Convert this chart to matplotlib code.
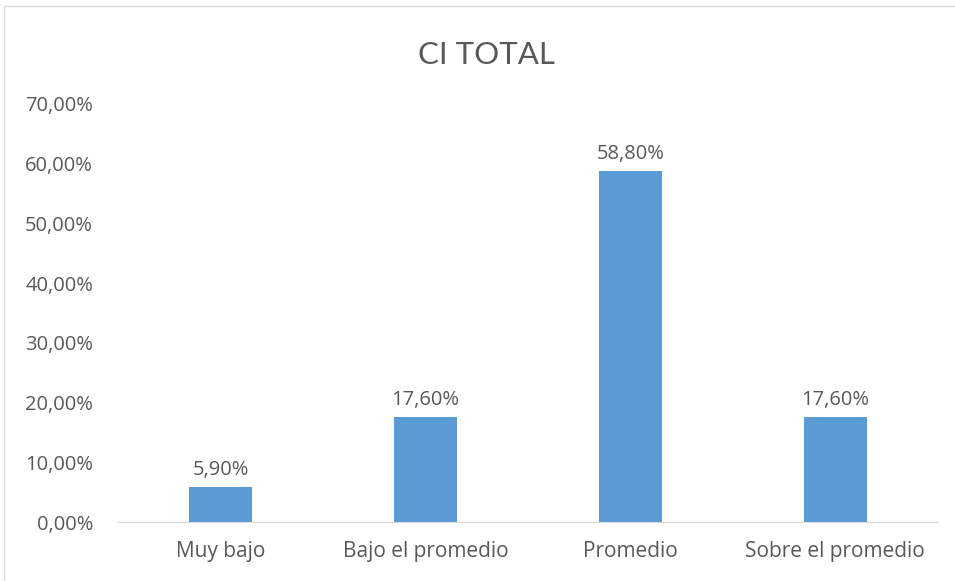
import matplotlib.pyplot as plt
from matplotlib.patches import Rectangle
from matplotlib.ticker import FuncFormatter

categories = ['Muy bajo', 'Bajo el promedio', 'Promedio', 'Sobre el promedio']
values = [5.9, 17.6, 58.8, 17.6]
yticks = [0, 10, 20, 30, 40, 50, 60, 70]

text_color = '#595959'
bar_color = '#5B9BD5'

plt.rcParams['font.family'] = ['Open Sans', 'DejaVu Sans']

fig = plt.figure(figsize=(9.55, 5.81), dpi=100)
ax = fig.add_axes([0.1236, 0.1015, 0.8584, 0.7195])

x = range(len(categories))
bars = ax.bar(x, values, width=0.31, color=bar_color)

# data labels in Spanish format
for b, v in zip(bars, values):
    ax.annotate(f'{v:.2f}%'.replace('.', ','), (b.get_x() + b.get_width() / 2, v),
                xytext=(0, 8.5), textcoords='offset points',
                ha='center', va='baseline', fontsize=14.5, color=text_color)

ax.set_xlim(-0.5, len(categories) - 0.5)
ax.set_ylim(0, 70)
ax.set_yticks(yticks)
ax.yaxis.set_major_formatter(FuncFormatter(lambda v, p: f'{v:.2f}%'.replace('.', ',')))
ax.set_xticks(list(x))
ax.set_xticklabels(categories)
ax.tick_params(axis='both', length=0, colors=text_color)
ax.tick_params(axis='y', pad=18, labelsize=14.5)
ax.tick_params(axis='x', pad=13.5, labelsize=15)

for s in ['top', 'right', 'left']:
    ax.spines[s].set_visible(False)
ax.spines['bottom'].set_color('#D9D9D9')

fig.text(0.509, 0.905, 'CI TOTAL', ha='center', va='center', fontsize=22.5,
         color=text_color, family=['Lato', 'DejaVu Sans'])

# chart-area border
fig.patches.append(Rectangle((0.004, -0.01), 1.0, 1.0, transform=fig.transFigure,
                             fill=False, edgecolor='#D9D9D9', lw=1))

fig.savefig('out.png', dpi=100, facecolor='white')
